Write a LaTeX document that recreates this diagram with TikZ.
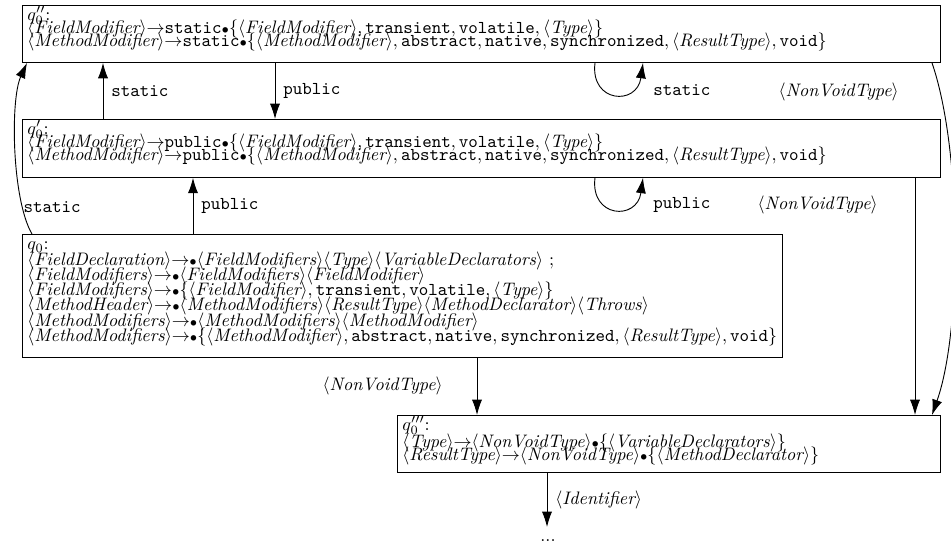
\documentclass[tikz,border=0pt]{standalone}
\usetikzlibrary{arrows.meta}
\newcommand{\nt}[1]{\langle\textit{#1}\rangle}
\newcommand{\kw}[1]{\texttt{#1}}
\newcommand{\mydot}{{\scriptstyle\bullet}}
\newcommand{\myra}{{\rightarrow}}
\newcommand{\boxtext}[4]{\parbox[c][#2][t]{#1}{\fontsize{10}{#3}\selectfont\lineskiplimit=-20pt\lineskip=0pt\raggedright #4}}
\tikzset{
  box/.style={draw, line width=0.5pt, anchor=north west, inner xsep=2.76pt, inner ysep=0.6pt},
  arr/.style={-{Latex[length=8.5pt,width=5.6pt]}, line width=0.5pt},
  lbl/.style={inner sep=0pt},
  rl/.style={anchor=west, inner sep=0pt, xshift=4.4pt}
}
\begin{document}
\begin{tikzpicture}[x=0.5525pt,y=-0.5525pt]
\useasboundingbox (0,0) rectangle (951,549);
% boxes
\node[box] (qpp) at (22,5) {\boxtext{501.7pt}{30.3pt}{7.3pt}{$q''_0$:\\
$\nt{FieldModifier}\myra\kw{static}\mydot\{\nt{FieldModifier},\kw{transient},\kw{volatile},\nt{Type}\}$\\
$\nt{MethodModifier}\myra\kw{static}\mydot\{\nt{MethodModifier},\kw{abstract},\kw{native},\kw{synchronized},\nt{ResultType},\kw{void}\}$}};
\node[box] (qp) at (22,119) {\boxtext{501.7pt}{30.8pt}{7.3pt}{$q'_0$:\\
$\nt{FieldModifier}\myra\kw{public}\mydot\{\nt{FieldModifier},\kw{transient},\kw{volatile},\nt{Type}\}$\\
$\nt{MethodModifier}\myra\kw{public}\mydot\{\nt{MethodModifier},\kw{abstract},\kw{native},\kw{synchronized},\nt{ResultType},\kw{void}\}$}};
\node[box] (q0) at (22,234) {\boxtext{414.4pt}{66.8pt}{8.4pt}{\rule{0pt}{7.6pt}$q_0$:\\[0.4pt]
$\nt{FieldDeclaration}\myra\mydot\nt{FieldModifiers}\nt{Type}\nt{VariableDeclarators}$ ;\\
$\nt{FieldModifiers}\myra\mydot\nt{FieldModifiers}\nt{FieldModifier}$\\
$\nt{FieldModifiers}\myra\mydot\{\nt{FieldModifier},\kw{transient},\kw{volatile},\nt{Type}\}$\\
$\nt{MethodHeader}\myra\mydot\nt{MethodModifiers}\nt{ResultType}\nt{MethodDeclarator}\nt{Throws}$\\
$\nt{MethodModifiers}\myra\mydot\nt{MethodModifiers}\nt{MethodModifier}$\\
$\nt{MethodModifiers}\myra\mydot\{\nt{MethodModifier},\kw{abstract},\kw{native},\kw{synchronized},\nt{ResultType},\kw{void}\}$}};
\node[box] (q3) at (397,415) {\boxtext{294.5pt}{30.3pt}{7.3pt}{$q'''_0$:\\[2.2pt]
$\nt{Type}\myra\nt{NonVoidType}\mydot\{\nt{VariableDeclarators}\}$\\
$\nt{ResultType}\myra\nt{NonVoidType}\mydot\{\nt{MethodDeclarator}\}$}};
% straight transitions
\draw[arr] (qp.north -| 103,0) -- node[midway, rl]{\kw{static}} (qpp.south -| 103,0);
\draw[arr] (qpp.south -| 275,0) -- node[midway, rl]{\kw{public}} (qp.north -| 275,0);
\draw[arr] (q0.north -| 193,0) -- node[midway, rl]{\kw{public}} (qp.south -| 193,0);
\draw[arr] (q0.north -| 32,0) .. controls (12,200) and (10,100) .. node[pos=0.2, anchor=west, inner sep=0pt, xshift=0.6pt]{\kw{static}} (qpp.south -| 27,0);
% self loops
\draw[arr] (qpp.south -| 595,0) .. controls (590,103) and (637,106) .. (qpp.south -| 643,0);
\draw[arr] (qp.south -| 595,0) .. controls (590,218) and (637,221) .. (qp.south -| 643,0);
\node[lbl, anchor=west] (ls1) at (653,90) {\kw{static}};
\node[lbl, anchor=west] (ls2) at (653,205) {\kw{public}};
% to q'''
\draw[arr] (q0.south -| 477,0) -- (q3.north -| 477,0);
\draw[arr] (qp.south -| 915,0) -- (q3.north -| 915,0);
\draw[arr] (qpp.south -| 932,0) .. controls (962,150) and (962,330) .. (q3.north -| 932,0);
\node[lbl, anchor=east] (ln1) at (899,92) {$\nt{NonVoidType}$};
\node[lbl, anchor=east] (ln2) at (878,205) {$\nt{NonVoidType}$};
\node[lbl, anchor=east] (ln3) at (443,386) {$\nt{NonVoidType}$};
% bottom
\coordinate (endp) at (547,527);
\draw[arr] (q3.south -| 547,0) -- node[midway, rl]{$\nt{Identifier}$} (endp);
\node[lbl] (dots) at (548,541) {...};
\end{tikzpicture}
\end{document}
